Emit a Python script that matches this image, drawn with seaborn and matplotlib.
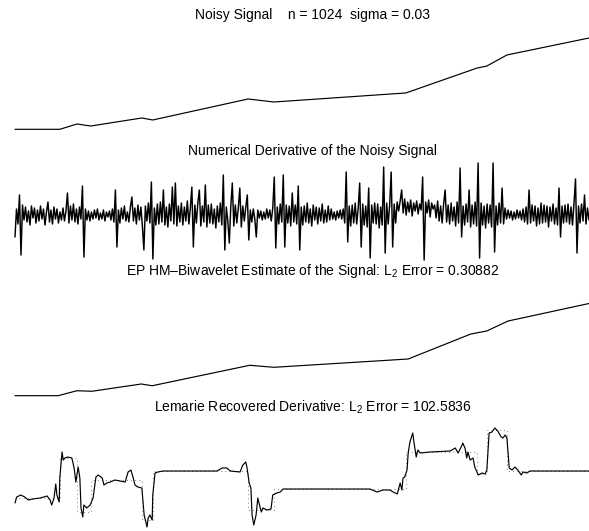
import matplotlib
matplotlib.use("Agg")
import matplotlib.pyplot as plt
import seaborn as sns
import numpy as np
import pandas as pd

sns.set_theme(style="white")
plt.rcParams['font.family'] = ['Liberation Sans', 'DejaVu Sans']
plt.rcParams['mathtext.fontset'] = 'custom'
plt.rcParams['mathtext.rm'] = 'Liberation Sans'
plt.rcParams['mathtext.default'] = 'regular'

# ---------------- data ----------------
# Panel 1: noisy signal (knots)
sig_t = [0.0, 0.078, 0.108, 0.132, 0.221, 0.240, 0.406, 0.451, 0.681, 0.805, 0.822, 0.857, 1.0]
sig_v = [0.0, 0.0, 0.058, 0.036, 0.124, 0.102, 0.332, 0.299, 0.398, 0.671, 0.693, 0.814, 1.0]

# Panel 2: numerical derivative of the noisy signal (estimated samples)
deriv_noisy = [
    -22, 6, -9, 20, -40, 10, -5, 8, -7, 4, -10, 9, -3, 7, -8, 5,
    -6, 9, -4, 6, -10, 3, 13, -7, 5, -9, 8, -4, 6, -8, 3, -5,
    7, -6, 4, 22, -8, 9, -5, 11, -7, 6, -9, 8, -4, 29, -42, 6,
    -5, 4, -6, 3, -4, 5, -3, 6, -5, 2, -4, 5, -6, 3, -2, 4,
    -5, 6, -7, 25, -32, 5, -8, 7, -4, 9, -6, 3, -7, 8, 18, -6,
    7, -9, 10, -5, 8, -11, -35, 9, -6, 12, -8, 33, -44, 7, -10, 11,
    -9, 13, -7, 25, -10, 8, -12, 11, -6, 28, -9, 32, -11, 9, -7, 12,
    -10, 8, -6, 14, -9, 7, 28, -32, 10, -8, 12, 25, -11, 9, -7, 30,
    -12, 10, -8, 11, -9, 6, -13, 9, -7, 12, -10, 40, -35, 8, -6, -28,
    9, 32, -11, 10, -8, 7, 27, -12, 9, -6, 8, 20, -25, 5, -7, 6,
    -4, -22, 5, -3, 4, -5, 3, -4, 6, -3, 5, -6, 7, 38, -33, 8,
    -9, 11, -7, 40, -32, 10, -8, 9, -11, 22, -7, 10, -9, 29, -35, 8,
    -10, 9, -7, 12, -8, 6, -11, 10, -5, 8, -9, 7, -6, 11, -8, 5,
    -7, 9, -5, 6, -4, 3, -5, 4, -3, 5, -4, 6, -8, 43, -27, 9,
    -11, 10, -8, 12, -9, 7, 32, -32, 11, -10, 9, -12, 27, -43, 10, -8,
    12, -9, 11, -13, 8, -10, 48, -38, 12, -9, 10, 43, -32, 11, -8, 13,
    4, 14, 25, 2, 16, 0, 13, 3, 15, -1, 12, 4, 14, 1, 11, 5,
    38, -45, 13, 2, 15, -2, 12, 6, 10, -3, 14, -6, 9, -8, 11, 25,
    -7, 10, -9, 12, -6, 8, -11, 13, -8, 47, -22, 9, -10, 11, -7, 25,
    -12, 10, -9, 13, -11, 52, -43, 12, -10, 9, -13, 11, -8, 10, -12, 52,
    -37, 9, -10, 12, -8, 27, -9, 7, -4, 5, -3, 4, -5, 3, -4, 5,
    -3, 4, -5, 6, -7, 8, -9, 25, -8, 10, -6, 9, -11, 7, -9, 12,
    -8, 10, -7, 9, -12, 8, -6, 11, -9, 7, -10, 27, -22, 9, -8, 10,
    -7, 11, -9, 8, -10, 12, 36, -38, 9, -8, 11, -6, 20, -9, 7, -5,
]

# Panel 3: biwavelet estimate of the signal
est_t = [0.0, 0.075, 0.108, 0.134, 0.220, 0.239, 0.409, 0.451, 0.685, 0.794, 0.822, 0.859, 1.0]
est_v = [0.0, 0.0, 0.054, 0.048, 0.127, 0.108, 0.330, 0.308, 0.398, 0.669, 0.702, 0.810, 1.0]

# Panel 4: recovered derivative (solid) and true derivative (dotted steps)
rec_t = [0.000, 0.003, 0.010, 0.017, 0.023, 0.031, 0.044, 0.056, 0.061, 0.064, 0.068, 0.071,
         0.073, 0.077, 0.078, 0.082, 0.084, 0.087, 0.092, 0.099, 0.103, 0.106, 0.110, 0.113,
         0.115, 0.118, 0.120, 0.125, 0.131, 0.136, 0.141, 0.145, 0.152, 0.155, 0.160, 0.166,
         0.174, 0.192, 0.197, 0.202, 0.206, 0.209, 0.214, 0.221, 0.225, 0.230, 0.232, 0.235,
         0.239, 0.240, 0.244, 0.249, 0.258, 0.267, 0.293, 0.352, 0.361, 0.369, 0.375, 0.392,
         0.397, 0.402, 0.404, 0.408, 0.411, 0.413, 0.416, 0.420, 0.423, 0.429, 0.432, 0.439,
         0.446, 0.449, 0.456, 0.462, 0.467, 0.479, 0.537, 0.618, 0.631, 0.641, 0.653, 0.659,
         0.666, 0.671, 0.674, 0.676, 0.679, 0.683, 0.685, 0.688, 0.693, 0.695, 0.699, 0.702,
         0.706, 0.723, 0.758, 0.767, 0.772, 0.779, 0.780, 0.784, 0.787, 0.789, 0.793, 0.798,
         0.801, 0.807, 0.814, 0.819, 0.822, 0.826, 0.831, 0.836, 0.841, 0.847, 0.850, 0.854,
         0.857, 0.861, 0.866, 0.871, 0.876, 0.882, 0.885, 0.892, 0.897, 0.944, 1.000]
rec_v = [-0.03, 0.03, 0.05, 0.03, 0.00, 0.01, 0.02, 0.04, 0.00, -0.05, 0.02, 0.16,
         0.05, -0.02, 0.22, 0.48, 0.40, 0.42, 0.43, 0.42, 0.32, 0.18, 0.33, 0.22,
         -0.08, -0.17, -0.05, -0.08, -0.05, 0.02, 0.23, 0.25, 0.22, 0.15, 0.17, 0.18,
         0.20, 0.18, 0.28, 0.30, 0.22, 0.15, 0.13, 0.12, -0.15, -0.27, -0.18, -0.15,
         -0.20, 0.05, 0.27, 0.28, 0.29, 0.29, 0.29, 0.29, 0.32, 0.32, 0.29, 0.28,
         0.35, 0.38, 0.33, 0.17, 0.12, -0.15, -0.25, -0.15, 0.02, -0.12, -0.08, -0.10,
         -0.09, 0.05, 0.07, 0.08, 0.11, 0.11, 0.11, 0.11, 0.08, 0.10, 0.10, 0.08,
         0.06, 0.17, 0.10, 0.22, 0.23, 0.30, 0.47, 0.58, 0.67, 0.58, 0.43, 0.50,
         0.47, 0.48, 0.49, 0.52, 0.47, 0.55, 0.57, 0.52, 0.42, 0.48, 0.40, 0.42,
         0.33, 0.25, 0.27, 0.26, 0.30, 0.67, 0.68, 0.72, 0.69, 0.63, 0.62, 0.65,
         0.62, 0.32, 0.30, 0.33, 0.30, 0.25, 0.28, 0.27, 0.29, 0.29, 0.29]
true_t = [0.0, 0.078, 0.108, 0.132, 0.221, 0.240, 0.406, 0.451, 0.681, 0.805, 0.822, 0.857, 1.0]
true_v = [0.02, 0.42, -0.12, 0.20, -0.20, 0.29, -0.10, 0.11, 0.48, 0.26, 0.70, 0.29, 0.29]

titles = ["Noisy Signal    n = 1024  sigma = 0.03",
          "Numerical Derivative of the Noisy Signal",
          "EP HM\u2013Biwavelet Estimate of the Signal: L$_2$ Error = 0.30882",
          "Lemarie Recovered Derivative: L$_2$ Error = 102.5836"]

# ---------------- figure ----------------
W, H = 589, 531
fig = plt.figure(figsize=(W / 100, H / 100), dpi=100)
fig.patch.set_facecolor("white")

def add_axes(top_px, bot_px):
    left = 15 / W
    return fig.add_axes([left, 1 - bot_px / H, 1 - left, (bot_px - top_px) / H])

lw = 0.85
ax1 = add_axes(38, 129.3)
ax2 = add_axes(163, 260)
ax3 = add_axes(303.5, 395.7)
ax4 = add_axes(428, 527)

d1 = pd.DataFrame({"t": sig_t, "v": sig_v})
sns.lineplot(data=d1, x="t", y="v", ax=ax1, color="black", lw=lw, sort=False,
             estimator=None, clip_on=False)

n2 = len(deriv_noisy)
d2 = pd.DataFrame({"t": np.linspace(0, 1, n2), "v": deriv_noisy})
sns.lineplot(data=d2, x="t", y="v", ax=ax2, color="black", lw=1.05, sort=False,
             estimator=None, clip_on=False)

d3 = pd.DataFrame({"t": est_t, "v": est_v})
sns.lineplot(data=d3, x="t", y="v", ax=ax3, color="black", lw=lw, sort=False,
             estimator=None, clip_on=False)

d4t = pd.DataFrame({"t": true_t, "v": true_v})
sns.lineplot(data=d4t, x="t", y="v", ax=ax4, color="#555555", lw=0.6,
             linestyle=(0, (1, 4)), drawstyle="steps-post", sort=False,
             estimator=None, clip_on=False)
d4 = pd.DataFrame({"t": rec_t, "v": rec_v})
sns.lineplot(data=d4, x="t", y="v", ax=ax4, color="black", lw=lw, sort=False,
             estimator=None, clip_on=False)

for ax, series in [(ax1, sig_v), (ax2, deriv_noisy), (ax3, est_v), (ax4, rec_v + true_v)]:
    ax.set_xlim(0, 1)
    ax.set_ylim(min(series), max(series))
    ax.set_axis_off()

pads = [13.7, 5.8, 20.5, 11.5]
for ax, ttl, pad in zip([ax1, ax2, ax3, ax4], titles, pads):
    ax.set_title(ttl, x=0.519, pad=pad, fontsize=10, color="black")

fig.savefig("out.png", dpi=100, facecolor="white")
